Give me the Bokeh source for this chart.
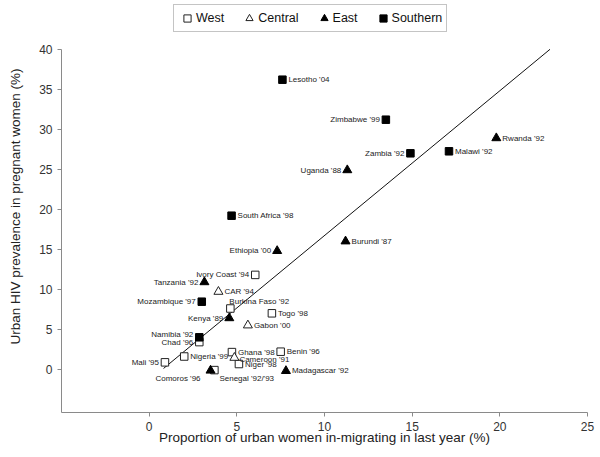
from bokeh.plotting import figure
from bokeh.models import ColumnDataSource, Legend, LegendItem, FixedTicker, Range1d
from bokeh.core.properties import value
from bokeh.embed import file_html
from bokeh.resources import INLINE

# ---------------- data ----------------
countries = ["Lesotho '04", "Zimbabwe '99", "Rwanda '92", "Zambia '92", "Malawi '92",
             "Uganda '88", "South Africa '98", "Ethiopia '00", "Burundi '87",
             "Ivory Coast '94", "Tanzania '92", "CAR '94", "Mozambique '97",
             "Burkina Faso '92", "Togo '98", "Kenya '89", "Gabon '00", "Namibia '92",
             "Chad '96", "Ghana '98", "Benin '96", "Mali '95", "Nigeria '99",
             "Cameroon '91", "Niger '98", "Comoros '96", "Senegal '92/'93",
             "Madagascar '92"]
migration = [7.6, 13.5, 19.8, 14.9, 17.1,
             11.3, 4.7, 7.3, 11.2,
             6.05, 3.15, 3.95, 3.0,
             4.63, 7.0, 4.57, 5.63, 2.86,
             2.86, 4.72, 7.5, 0.9, 2.0,
             4.86, 5.12, 3.5, 3.72,
             7.8]
hiv = [36.2, 31.2, 28.9, 27.0, 27.25,
       24.9, 19.2, 14.8, 16.0,
       11.8, 10.9, 9.7, 8.45,
       7.6, 7.0, 6.4, 5.5, 4.0,
       3.4, 2.15, 2.2, 0.87, 1.6,
       1.45, 0.66, -0.15, -0.1,
       -0.2]
region = ["Southern", "Southern", "East", "Southern", "Southern",
          "East", "Southern", "East", "East",
          "West", "East", "Central", "Southern",
          "West", "West", "East", "Central", "Southern",
          "West", "West", "West", "West", "West",
          "Central", "West", "East", "West",
          "East"]
# label placement relative to the marker
label_side = ["r", "l", "r", "l", "r",
              "l", "r", "l", "r",
              "l", "l", "r", "l",
              "ar", "r", "l", "r", "lu",
              "l", "r", "r", "l", "r",
              "rd", "r", "bl", "br",
              "r"]

regions = ["West", "Central", "East", "Southern"]
x_ticks = [0, 5, 10, 15, 20, 25]
y_ticks = [0, 5, 10, 15, 20, 25, 30, 35, 40]
x_axis_span = (-5, 25)
y_axis_span = (-5.4, 40)

# linear trend (runs from x_start up to the top of the y axis)
trend_slope = 1.81
trend_intercept = -1.38
trend_x_start = 0.82

# ---------------- styling ----------------
offsets = {
    "r": (6, 0, "left"),
    "l": (-6, 0, "right"),
    "lu": (-6, -3, "right"),
    "rd": (5, 2, "left"),
    "ar": (-1, -7, "left"),
    "bl": (-10, 8, "right"),
    "br": (5, 8, "left"),
}
marker_style = {
    "West": dict(marker="square", size=7.5, fill_color="white", line_color="#222222"),
    "Central": dict(marker="triangle", size=9, fill_color="white", line_color="#222222"),
    "East": dict(marker="triangle", size=9, fill_color="black", line_color="black"),
    "Southern": dict(marker="square", size=7.5, fill_color="black", line_color="black"),
}

FONT = "Liberation Sans"
PX_PER_Y = 8.0          # vertical scale of the chart (pixels per unit)
FRAME_H = 412           # frame spans the canvas from the top to the x axis

y_top = y_axis_span[0] + FRAME_H / PX_PER_Y   # room above the axis for the legend

p = figure(width=600, height=457, output_backend="svg", toolbar_location=None,
           x_range=Range1d(*x_axis_span), y_range=Range1d(y_axis_span[0], y_top),
           min_border_left=61, min_border_right=13, min_border_top=0,
           min_border_bottom=457 - FRAME_H)
p.grid.visible = False
p.outline_line_color = None
p.background_fill_color = "white"

trend_x = [trend_x_start, (y_axis_span[1] - trend_intercept) / trend_slope]
trend_y = [trend_slope * x + trend_intercept for x in trend_x]
p.line(trend_x, trend_y, line_color="#111111", line_width=1)

legend_items = []
for reg in regions:
    idx = [i for i, r in enumerate(region) if r == reg]
    src = ColumnDataSource(dict(x=[migration[i] for i in idx], y=[hiv[i] for i in idx]))
    r = p.scatter("x", "y", source=src, line_width=1, **marker_style[reg])
    legend_items.append(LegendItem(label=reg, renderers=[r]))

lab = ColumnDataSource(dict(
    x=migration, y=hiv, text=countries,
    xo=[offsets[s][0] for s in label_side],
    yo=[offsets[s][1] for s in label_side],
    al=[offsets[s][2] for s in label_side],
))
p.text("x", "y", text="text", source=lab, x_offset="xo", y_offset="yo",
       text_align="al", text_baseline="middle", text_font=value(FONT),
       text_font_size="8px", text_color="#222222")

for ax in (p.xaxis[0], p.yaxis[0]):
    ax.axis_line_color = "#8a8a8a"
    ax.major_tick_line_color = "#8a8a8a"
    ax.minor_tick_line_color = None
    ax.major_tick_in = 0
    ax.major_tick_out = 4
    ax.major_label_text_font = FONT
    ax.major_label_text_font_size = "12px"
    ax.major_label_text_color = "#333333"
    ax.axis_label_text_font = FONT
    ax.axis_label_text_font_size = "13.5px"
    ax.axis_label_text_font_style = "normal"
    ax.axis_label_text_color = "#222222"

p.yaxis[0].bounds = y_axis_span
p.xaxis[0].ticker = FixedTicker(ticks=x_ticks)
p.yaxis[0].ticker = FixedTicker(ticks=y_ticks)
p.xaxis[0].axis_label = "Proportion of urban women in-migrating in last year (%)"
p.yaxis[0].axis_label = "Urban HIV prevalence in pregnant women (%)"
p.xaxis[0].major_label_standoff = 5
p.xaxis[0].axis_label_standoff = -4
p.yaxis[0].major_label_standoff = 5
p.yaxis[0].axis_label_standoff = 13

legend = Legend(items=legend_items, orientation="horizontal", location=(112, 380),
                border_line_color="#8a8a8a", border_line_width=1,
                background_fill_color="white", background_fill_alpha=1,
                label_text_font=FONT, label_text_font_size="12.5px",
                label_text_color="#111111",
                glyph_width=18, glyph_height=18, label_standoff=0,
                spacing=16, padding=4, margin=0, label_height=18)
p.add_layout(legend, "center")

open("out.html", "w").write(file_html(p, INLINE))
